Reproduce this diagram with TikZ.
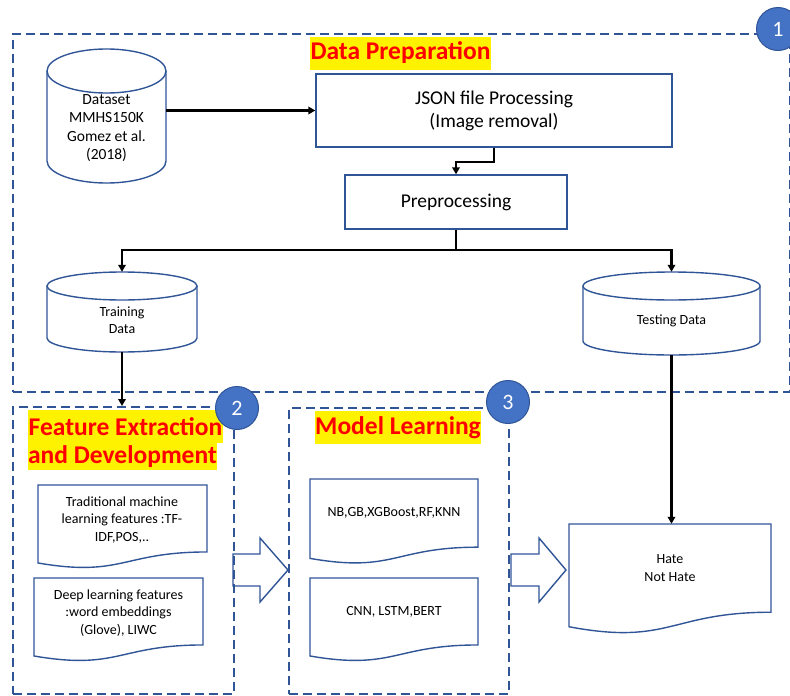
\documentclass[tikz,border=0pt]{standalone}
\usepackage{fontspec}
\setmainfont{Carlito}
\usetikzlibrary{arrows.meta}
\definecolor{ol}{RGB}{47,85,151}
\definecolor{cf}{RGB}{68,114,196}
\tikzset{
 dboxn/.style={draw=ol, line width=1.5pt, dash pattern=on 9pt off 5pt, inner sep=0pt, anchor=north west},
 shp/.style={draw=ol, line width=1.4pt},
 conn/.style={draw=black, line width=2.2pt, -{Triangle[length=7pt,width=7.5pt]}},
 ttl/.style={fill=yellow, text=red, font=\fontsize{25.5}{28}\selectfont\bfseries, inner xsep=0.5pt, inner ysep=0pt, minimum height=33pt},
 numc/.style={circle, fill=cf, draw=ol, line width=1pt, text=white, minimum size=43pt, inner sep=0pt, font=\fontsize{22}{26}\selectfont},
 lbl/.style={align=center, inner sep=0pt},
 ghost/.style={draw=none, inner sep=0pt},
 f14/.style={font=\fontsize{14}{17.5}\selectfont},
}
\newcommand\docshape[4]{\draw[shp] (#3,{#2+0.802*#4}) -- (#3,#2) -- (#1,#2) -- (#1,{#2+0.934*#4}) .. controls ({(#1+#3)/2},{#2+1.107*#4}) and ({(#1+#3)/2},{#2+0.802*#4}) .. (#3,{#2+0.802*#4}) -- cycle;}
\begin{document}
\begin{tikzpicture}[x=1pt,y=-1pt]
\useasboundingbox (0,0) rectangle (790,696);

% dashed group boxes
\node[dboxn, minimum width=777pt, minimum height=358pt] (b1) at (12,33) {};
\node[dboxn, minimum width=221pt, minimum height=287pt] (b2) at (12,406) {};
\node[dboxn, minimum width=220pt, minimum height=286pt] (b3) at (288,407) {};

% titles
\node[ttl] (t1) at (400.5,53) {Data Preparation};
\node[ttl] (t2a) at (125.5,426.5) {Feature Extraction};
\node[ttl, minimum height=27pt] (t2b) at (122.5,456.5) {and Development};
\node[ttl] (t3) at (398,427.5) {Model Learning};

% dataset cylinder
\draw[shp] (106.5,71) ellipse [x radius=59.5pt, y radius=22pt];
\draw[shp] (47,71) -- (47,161) arc [start angle=180, end angle=360, x radius=59.5pt, y radius=22pt] -- (166,71);
\node[ghost, minimum width=119pt, minimum height=134pt] (ds) at (106.5,116) {};
\node[lbl, font=\fontsize{15.5}{18.5}\selectfont] (dst) at (106.5,128) {Dataset\\MMHS150K\\Gomez et al.\\(2018)};

% JSON and preprocessing
\node[shp, minimum width=356pt, minimum height=73pt, align=center, font=\fontsize{19.5}{23}\selectfont] (json) at (494,110.5) {JSON file Processing\\(Image removal)};
\node[shp, minimum width=222pt, minimum height=54pt, font=\fontsize{19.5}{23}\selectfont] (prep) at (456,202) {Preprocessing};

% training cylinder
\draw[shp] (122,286) ellipse [x radius=75pt, y radius=14pt];
\draw[shp] (47,286) -- (47,338) arc [start angle=180, end angle=360, x radius=75pt, y radius=14pt] -- (197,286);
\node[ghost, minimum width=150pt, minimum height=80pt] (train) at (122,312) {};
\node[lbl, f14] (traint) at (122,320) {Training\\Data};

% testing cylinder
\draw[shp] (671.5,286) ellipse [x radius=88.5pt, y radius=14pt];
\draw[shp] (583,286) -- (583,341) arc [start angle=180, end angle=360, x radius=88.5pt, y radius=14pt] -- (760,286);
\node[ghost, minimum width=177pt, minimum height=83pt] (test) at (671.5,313.5) {};
\node[lbl, f14] (testt) at (671.5,321) {Testing Data};

% documents
\docshape{38}{485}{207}{83.5}
\node[lbl, f14] (d1) at (122,520) {Traditional machine\\learning features :TF-\\IDF,POS,..};
\docshape{34}{578}{203}{83.5}
\node[lbl, f14] (d2) at (118.5,613) {Deep learning features\\:word embeddings\\(Glove), LIWC};
\docshape{310}{479}{478}{85}
\node[lbl, f14] (d3) at (394,513) {NB,GB,XGBoost,RF,KNN};
\docshape{310}{578}{478}{83.5}
\node[lbl, f14] (d4) at (394,612) {CNN, LSTM,BERT};
\docshape{569}{524}{771}{110}
\node[ghost, minimum width=202pt, minimum height=88pt, align=center, f14] (hate) at (670,568) {Hate\\Not Hate};

% block arrows
\draw[shp] (233,554) -- (260,554) -- (260,538) -- (288,570) -- (260,602) -- (260,586) -- (233,586) -- cycle;
\draw[shp] (511,554) -- (539,554) -- (539,538) -- (566,570) -- (539,602) -- (539,586) -- (511,586) -- cycle;

% connectors
\draw[conn] (ds.east |- json.west) -- (json.west);
\draw[conn] (json.south) -- ++(0,14) -| (prep.north);
\draw[line width=2.2pt] (prep.south) -- ++(0,20) coordinate (sp);
\draw[conn] (sp) -| (train.north);
\draw[conn] (sp) -| (test.north);
\draw[conn] (train.south) -- (train.south |- b2.north);
\draw[conn] (test.south) -- (test.south |- hate.north);

% number circles
\node[numc] (c1) at (778,29) {1};
\node[numc] (c2) at (237,408) {2};
\node[numc] (c3) at (508,402) {3};
\end{tikzpicture}
\end{document}
